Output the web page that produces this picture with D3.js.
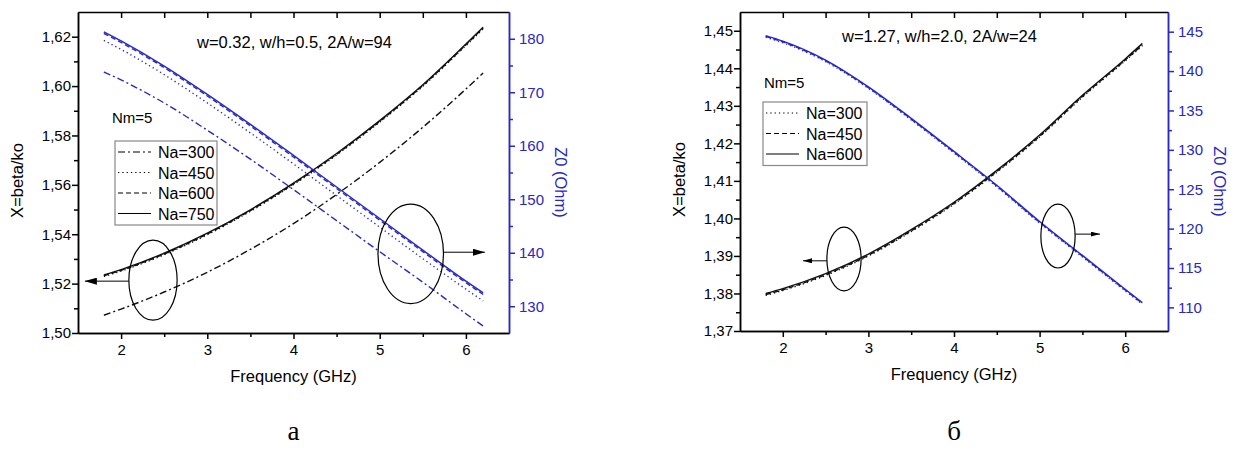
<!DOCTYPE html>
<html>
<head>
<meta charset="utf-8">
<script src="https://cdn.jsdelivr.net/npm/d3@7"></script>
<style>
body { margin: 0; background: #fff; }
text { font-family: Arial, "Liberation Sans", sans-serif; }
</style>
</head>
<body>
<div id="chart"></div>
<script>
//frequency points (GHz)
var freq = [1.8, 2, 2.5, 3, 3.5, 4, 4.5, 5, 5.5, 6, 6.2];

//panel a : w=0.32, w/h=0.5, 2A/w=94
var betaA300 = [1.5072, 1.5097, 1.5166, 1.5246, 1.5339, 1.5443, 1.5561, 1.5691, 1.5833, 1.5988, 1.6053];
var betaA450 = [1.5229, 1.5251, 1.5317, 1.5398, 1.5493, 1.5601, 1.5721, 1.5854, 1.5999, 1.6164, 1.6232];
var betaA600 = [1.5232, 1.5254, 1.5320, 1.5401, 1.5496, 1.5604, 1.5724, 1.5857, 1.6002, 1.6167, 1.6235];
var betaA750 = [1.5235, 1.5257, 1.5323, 1.5404, 1.5499, 1.5607, 1.5727, 1.5860, 1.6005, 1.6170, 1.6238];
var z0A300 = [173.8, 172.3, 168.0, 162.9, 157.5, 151.8, 146.0, 140.2, 134.5, 128.6, 126.3];
var z0A450 = [179.7, 178.0, 173.3, 168.0, 162.4, 156.6, 150.7, 144.8, 138.9, 133.2, 131.0];
var z0A600 = [181.0, 179.3, 174.6, 169.3, 163.7, 157.9, 152.0, 146.1, 140.2, 134.4, 132.2];
var z0A750 = [181.3, 179.6, 174.9, 169.6, 164.0, 158.2, 152.3, 146.4, 140.5, 134.7, 132.5];

//panel b : w=1.27, w/h=2.0, 2A/w=24
var betaB300 = [1.3795, 1.3808, 1.3848, 1.3900, 1.3965, 1.4038, 1.4123, 1.4217, 1.4323, 1.4420, 1.4460];
var betaB450 = [1.3797, 1.3810, 1.3850, 1.3902, 1.3967, 1.4040, 1.4125, 1.4219, 1.4325, 1.4422, 1.4462];
var betaB600 = [1.3800, 1.3813, 1.3853, 1.3905, 1.3970, 1.4043, 1.4128, 1.4222, 1.4328, 1.4425, 1.4466];
var z0B300 = [144.3, 143.6, 141.2, 137.8, 133.8, 129.6, 125.3, 120.7, 116.4, 112.1, 110.4];
var z0B450 = [144.4, 143.7, 141.3, 137.9, 133.9, 129.7, 125.4, 120.8, 116.5, 112.2, 110.5];
var z0B600 = [144.5, 143.8, 141.4, 138.0, 134.0, 129.8, 125.5, 120.9, 116.6, 112.3, 110.6];

//tick values
var freqTicks = [2, 3, 4, 5, 6];
var freqMinor = [2.5, 3.5, 4.5, 5.5];
var betaTicksA = [1.50, 1.52, 1.54, 1.56, 1.58, 1.60, 1.62];
var betaMinorA = [1.51, 1.53, 1.55, 1.57, 1.59, 1.61];
var z0TicksA = [130, 140, 150, 160, 170, 180];
var z0MinorA = [135, 145, 155, 165, 175];
var betaTicksB = [1.37, 1.38, 1.39, 1.40, 1.41, 1.42, 1.43, 1.44, 1.45];
var betaMinorB = [1.375, 1.385, 1.395, 1.405, 1.415, 1.425, 1.435, 1.445];
var z0TicksB = [110, 115, 120, 125, 130, 135, 140, 145];
var z0MinorB = [112.5, 117.5, 122.5, 127.5, 132.5, 137.5, 142.5];

var blue = "#2828c4";
var dashDot = "7,3,2,3";
var dotted = "1.3,3";
var dashed = "5,3";

var comma = d3.formatLocale({decimal: ",", thousands: ".", grouping: [3], currency: ["", ""]});

var svg = d3.select("#chart")
.append("svg")
.attr("width", 1239)
.attr("height", 456);

//arrow heads
var defs = svg.append("defs");
[["headL", 12, 7], ["headS", 9, 5]].forEach(function(h) {
  defs.append("marker")
  .attr("id", h[0])
  .attr("viewBox", "0 0 10 6")
  .attr("refX", 10).attr("refY", 3)
  .attr("markerWidth", h[1]).attr("markerHeight", h[2])
  .attr("markerUnits", "userSpaceOnUse")
  .attr("orient", "auto")
  .attr("preserveAspectRatio", "none")
  .append("path").attr("d", "M0,0L10,3L0,6Z").attr("fill", "#000");
});

function drawPanel(p) {
  var x = d3.scaleLinear().domain([1.5, 6.5]).range([p.left, p.right]);
  var y = d3.scaleLinear().domain(p.betaDomain).range([p.bottom, p.top]);
  var y2 = d3.scaleLinear().domain(p.z0Domain).range([p.bottom, p.top]);
  var g = svg.append("g");

  //curves
  var lineB = d3.line().curve(d3.curveMonotoneX)
  .x(function(d, i) { return x(freq[i]); })
  .y(function(d) { return y(d); });
  var lineZ = d3.line().curve(d3.curveMonotoneX)
  .x(function(d, i) { return x(freq[i]); })
  .y(function(d) { return y2(d); });

  p.series.forEach(function(s) {
    g.append("path").attr("d", lineB(s.beta))
    .attr("fill", "none").attr("stroke", "#111").attr("stroke-width", 1.4)
    .attr("stroke-dasharray", s.dash);
    g.append("path").attr("d", lineZ(s.z0))
    .attr("fill", "none").attr("stroke", blue).attr("stroke-width", 1.4)
    .attr("stroke-dasharray", s.dash);
  });

  //axes
  function ax(axis, tr, color) {
    var a = g.append("g").attr("transform", tr).call(axis);
    a.selectAll("line, path").attr("stroke", color).attr("stroke-width", 1.5);
    a.selectAll("text").attr("fill", color).style("font-size", "15px")
    .style("font-family", "Arial, 'Liberation Sans', sans-serif");
    return a;
  }
  ax(d3.axisBottom(x).tickValues(freqTicks).tickSize(6).tickSizeOuter(0).tickPadding(5).tickFormat(d3.format("d")),
    "translate(0," + p.bottom + ")", "#000");
  ax(d3.axisBottom(x).tickValues(freqMinor).tickSize(4).tickSizeOuter(0).tickFormat(""),
    "translate(0," + p.bottom + ")", "#000");
  ax(d3.axisTop(x).tickValues(freqTicks.concat(freqMinor)).tickSize(-6).tickSizeOuter(0).tickFormat(""),
    "translate(0," + p.top + ")", "#000");
  ax(d3.axisLeft(y).tickValues(p.betaTicks).tickSize(6).tickSizeOuter(0).tickPadding(1).tickFormat(comma.format(".2f")),
    "translate(" + p.left + ",0)", "#000");
  ax(d3.axisLeft(y).tickValues(p.betaMinor).tickSize(4).tickSizeOuter(0).tickFormat(""),
    "translate(" + p.left + ",0)", "#000");
  ax(d3.axisRight(y2).tickValues(p.z0Ticks).tickSize(6).tickSizeOuter(0).tickPadding(4).tickFormat(d3.format("d")),
    "translate(" + p.right + ",0)", blue);
  ax(d3.axisRight(y2).tickValues(p.z0Minor).tickSize(4).tickSizeOuter(0).tickFormat(""),
    "translate(" + p.right + ",0)", blue);

  //axis titles
  var midY = (p.top + p.bottom) / 2;
  g.append("text").attr("transform", "translate(" + (p.left - 55) + "," + (midY + 8) + ") rotate(-90)")
  .attr("text-anchor", "middle").style("font-size", "16.5px").text("X=beta/ko");
  g.append("text").attr("transform", "translate(" + (p.right + 46) + "," + (midY + 10) + ") rotate(90)")
  .attr("text-anchor", "middle").style("font-size", "16.5px").attr("fill", blue).text("Z0 (Ohm)");
  g.append("text").attr("x", (p.left + p.right) / 2).attr("y", p.bottom + 49)
  .attr("text-anchor", "middle").style("font-size", "16.5px").text("Frequency (GHz)");

  //parameters
  g.append("text").attr("x", p.titleX).attr("y", p.titleY)
  .style("font-size", "16.5px").text(p.title);
  g.append("text").attr("x", p.nmX).attr("y", p.nmY)
  .style("font-size", "15px").text("Nm=5");

  //legend
  var lg = g.append("g").attr("transform", "translate(" + p.legX + "," + p.legY + ")");
  lg.append("rect").attr("width", p.legW).attr("height", p.series.length * 20.5 + 2)
  .attr("fill", "#fff").attr("stroke", "#888").attr("stroke-width", 1.2);
  p.series.forEach(function(s, i) {
    var yy = 11 + i * 20.5;
    lg.append("line").attr("x1", 3).attr("x2", 36).attr("y1", yy).attr("y2", yy)
    .attr("stroke", "#000").attr("stroke-width", 1.2).attr("stroke-dasharray", s.dash);
    lg.append("text").attr("x", 43).attr("y", yy + 6).style("font-size", "16px").text(s.name);
  });

  //ellipse marks with arrows
  p.marks.forEach(function(m) {
    var ys = m.right ? y2 : y;
    var cx = x(m.f), cy = ys(m.v);
    var rx = x(m.f + m.df) - cx, ry = cy - ys(m.v + m.dv);
    g.append("ellipse").attr("cx", cx).attr("cy", cy).attr("rx", rx).attr("ry", ry)
    .attr("fill", "none").attr("stroke", "#000").attr("stroke-width", 1.2);
    var x0 = m.to > m.f ? cx + rx : cx - rx;
    g.append("line").attr("x1", x0).attr("y1", ys(m.arrowV)).attr("x2", x(m.to)).attr("y2", ys(m.arrowV))
    .attr("stroke", "#000").attr("stroke-width", 1).attr("marker-end", "url(#" + p.head + ")");
  });

  //panel letter
  g.append("text").attr("x", (p.left + p.right) / 2).attr("y", 440)
  .attr("text-anchor", "middle").style("font-family", "'Liberation Serif', 'Times New Roman', serif")
  .style("font-size", "27px").text(p.letter);
}

drawPanel({
  left: 78, right: 509, top: 12, bottom: 333,
  betaDomain: [1.50, 1.63], z0Domain: [125, 185],
  betaTicks: betaTicksA, betaMinor: betaMinorA, z0Ticks: z0TicksA, z0Minor: z0MinorA,
  title: "w=0.32, w/h=0.5, 2A/w=94", titleX: 197, titleY: 48,
  nmX: 112, nmY: 123,
  legX: 115, legY: 141, legW: 102,
  series: [
    {name: "Na=300", dash: dashDot, beta: betaA300, z0: z0A300},
    {name: "Na=450", dash: dotted, beta: betaA450, z0: z0A450},
    {name: "Na=600", dash: dashed, beta: betaA600, z0: z0A600},
    {name: "Na=750", dash: null, beta: betaA750, z0: z0A750}
  ],
  marks: [
    {f: 2.37, v: 1.5214, df: 0.28, dv: 0.0162, right: false, to: 1.58, arrowV: 1.5210},
    {f: 5.36, v: 139.8, df: 0.38, dv: 9.3, right: true, to: 6.22, arrowV: 140.1}
  ],
  head: "headL",
  letter: "а"
});

drawPanel({
  left: 740, right: 1168, top: 12, bottom: 331,
  betaDomain: [1.37, 1.455], z0Domain: [107, 147.5],
  betaTicks: betaTicksB, betaMinor: betaMinorB, z0Ticks: z0TicksB, z0Minor: z0MinorB,
  title: "w=1.27, w/h=2.0, 2A/w=24", titleX: 842, titleY: 42,
  nmX: 764, nmY: 88,
  legX: 763, legY: 102, legW: 104,
  series: [
    {name: "Na=300", dash: dotted, beta: betaB300, z0: z0B300},
    {name: "Na=450", dash: dashed, beta: betaB450, z0: z0B450},
    {name: "Na=600", dash: null, beta: betaB600, z0: z0B600}
  ],
  marks: [
    {f: 2.715, v: 1.3892, df: 0.2, dv: 0.0085, right: false, to: 2.236, arrowV: 1.3887},
    {f: 5.215, v: 119.06, df: 0.2, dv: 4.06, right: true, to: 5.705, arrowV: 119.3}
  ],
  head: "headS",
  letter: "б"
});
</script>
</body>
</html>
